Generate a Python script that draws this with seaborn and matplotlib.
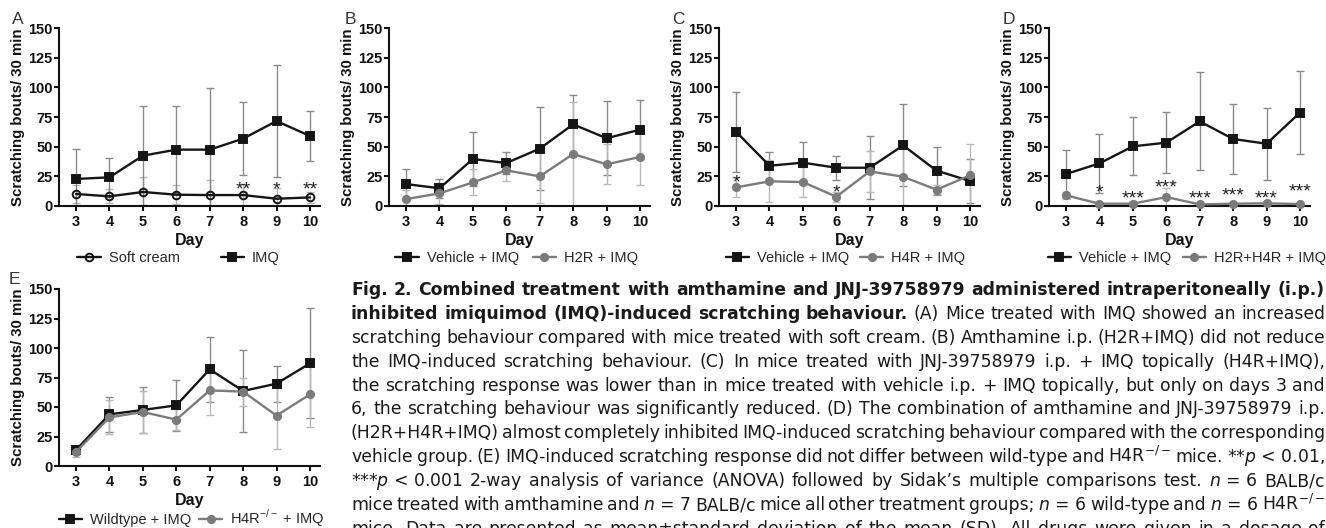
import matplotlib
matplotlib.use("Agg")
import matplotlib.pyplot as plt
import seaborn as sns
import numpy as np

# ---------------- data ----------------
days = [3, 4, 5, 6, 7, 8, 9, 10]
yticks = [0, 25, 50, 75, 100, 125, 150]

# Panel A
a_soft_mean = [9.9, 7.9, 11.6, 9.3, 9.0, 9.0, 5.9, 7.0]
a_soft_sd = [8.0, 6.0, 13.0, 8.2, 12.7, 9.0, 9.0, 5.0]
a_imq_mean = [22.6, 24.0, 42.3, 47.4, 47.4, 56.7, 71.6, 58.9]
a_imq_sd = [25.0, 16.6, 41.7, 36.6, 51.8, 31.0, 47.4, 21.4]
a_star_days = [8, 9, 10]
a_star_y = [18.9, 18.9, 18.9]
a_star_text = ["**", "*", "**"]

# Panel B
b_veh_mean = [18.3, 14.7, 39.5, 36.1, 48.2, 68.8, 57.0, 64.3]
b_veh_sd = [13.0, 8.0, 22.5, 9.6, 35.0, 25.1, 31.2, 25.1]
b_h2r_mean = [5.6, 10.4, 19.7, 29.9, 24.8, 43.7, 35.0, 41.2]
b_h2r_sd = [7.5, 9.0, 11.0, 9.3, 22.8, 44.0, 17.0, 24.0]

# Panel C
c_veh_mean = [62.6, 33.8, 36.4, 32.1, 32.1, 51.0, 29.6, 20.9]
c_veh_sd = [33.8, 11.9, 17.7, 10.2, 26.8, 34.7, 20.3, 18.6]
c_h4r_mean = [15.5, 20.6, 20.0, 7.6, 29.0, 24.5, 13.5, 25.7]
c_h4r_sd = [8.5, 17.8, 13.0, 4.2, 17.2, 24.0, 4.0, 26.3]
c_star_days = [3, 6]
c_star_y = [24.5, 16.1]
c_star_text = ["*", "*"]

# Panel D
d_veh_mean = [26.8, 35.8, 50.2, 53.3, 71.3, 56.4, 52.4, 78.7]
d_veh_sd = [20.3, 24.8, 24.5, 25.9, 41.5, 29.3, 30.5, 35.2]
d_comb_mean = [8.7, 1.7, 1.7, 7.3, 1.1, 1.7, 2.0, 1.4]
d_comb_sd = [3.0, 1.5, 2.0, 8.0, 0.8, 1.0, 1.0, 0.8]
d_star_days = [4, 5, 6, 7, 8, 9, 10]
d_star_y = [16.1, 11.3, 20.9, 11.3, 13.8, 11.3, 16.9]
d_star_text = ["*", "***", "***", "***", "***", "***", "***"]

# Panel E
e_wt_mean = [13.6, 43.8, 47.5, 51.4, 81.9, 63.6, 69.8, 87.0]
e_wt_sd = [3.0, 14.7, 19.7, 21.8, 27.4, 35.0, 15.2, 46.6]
e_ko_mean = [11.9, 41.2, 45.8, 39.3, 64.1, 63.0, 42.7, 60.7]
e_ko_sd = [4.0, 14.4, 18.0, 9.0, 21.0, 12.0, 28.6, 28.0]

# caption lines (segments: text, weight); '~' = non-stretching space
caption_lines = [
    [("Fig. 2. Combined treatment with amthamine and JNJ-39758979 administered intraperitoneally (i.p.)", "bold")],
    [("inhibited imiquimod (IMQ)-induced scratching behaviour.", "bold"),
     ("(A) Mice treated with IMQ showed an increased", "normal")],
    [("scratching behaviour compared with mice treated with soft cream. (B) Amthamine i.p. (H2R+IMQ) did not reduce", "normal")],
    [("the IMQ-induced scratching behaviour. (C) In mice treated with JNJ-39758979 i.p. + IMQ topically (H4R+IMQ),", "normal")],
    [("the scratching response was lower than in mice treated with vehicle i.p. + IMQ topically, but only on days 3 and", "normal")],
    [("6, the scratching behaviour was significantly reduced. (D) The combination of amthamine and JNJ-39758979 i.p.", "normal")],
    [("(H2R+H4R+IMQ) almost completely inhibited IMQ-induced scratching behaviour compared with the corresponding", "normal")],
    [("vehicle group. (E) IMQ-induced scratching response did not differ between wild-type and H4R$^{-/-}$ mice. **$p$~<~0.01,", "normal")],
    [("***$p$~<~0.001 2-way analysis of variance (ANOVA) followed by Sidak\u2019s multiple comparisons test. $n$~=~6 BALB/c", "normal")],
    [("mice treated with amthamine and $n$~=~7 BALB/c mice all other treatment groups; $n$~=~6 wild-type and $n$~=~6 H4R$^{-/-}$", "normal")],
    [("mice. Data are presented as mean\u00b1standard deviation of the mean (SD). All drugs were given in a dosage of", "normal")],
]

# ---------------- style ----------------
sns.set_theme(style="ticks")
plt.rcParams['font.family'] = ['Liberation Sans', 'DejaVu Sans']
plt.rcParams['axes.linewidth'] = 1.5
plt.rcParams['mathtext.fontset'] = 'dejavusans'

W, H = 1326, 528
fig = plt.figure(figsize=(W / 100, H / 100), dpi=100)

BLACK = '#151515'
GREY = '#7b7b7b'
ERR_BLACK = '#8a8a8a'
ERR_GREY = '#b8b8b8'


def add_axes_px(left, top, right, bottom):
    return fig.add_axes([left / W, 1 - bottom / H, (right - left) / W, (bottom - top) / H])


def draw_series(ax, mean, sd, label, color, ecolor, marker, ms, mfc):
    ax.errorbar(days, mean, yerr=sd, fmt='none', ecolor=ecolor, elinewidth=1.0,
                capsize=2.6, capthick=1.0, zorder=2)
    sns.lineplot(x=days, y=mean, ax=ax, color=color, marker=marker, markersize=ms,
                 markerfacecolor=mfc, markeredgecolor=color, markeredgewidth=1.4,
                 linewidth=1.7, clip_on=False, zorder=4, label=label, legend=False)
    return ax.get_lines()[-1]


def style_axes(ax):
    ax.set_xlim(2.49, 10.3)
    ax.set_ylim(0, 150)
    ax.set_xticks(days)
    ax.set_xticklabels([str(d) for d in days])
    ax.set_yticks(yticks)
    ax.set_yticklabels([str(v) for v in yticks])
    sns.despine(ax=ax)
    for s in ['left', 'bottom']:
        ax.spines[s].set_linewidth(1.5)
        ax.spines[s].set_color('#111111')
    ax.tick_params(axis='x', length=3.6, width=1.5, pad=3.0, labelsize=10.5, colors='#111111')
    ax.tick_params(axis='y', length=3.6, width=1.5, pad=1.0, labelsize=10.5, colors='#111111')
    for lab in ax.get_xticklabels() + ax.get_yticklabels():
        lab.set_fontweight('bold')
    ax.set_xlabel('Day', fontsize=11.5, fontweight='bold', color='#111111')
    ax.xaxis.set_label_coords(0.5, -35 / 177.4)
    ax.xaxis.label.set_va('center')
    ax.set_ylabel('Scratching bouts/ 30 min', fontsize=10.8, fontweight='bold', color='#111111')
    ax.yaxis.set_label_coords(-41 / 261, 0.5)
    ax.yaxis.label.set_va('center')
    ax.set_facecolor('none')


def add_stars(ax, sdays, sy, stext):
    fs = 14
    for d, y, t in zip(sdays, sy, stext):
        ax.annotate(t, (d, y), xytext=(0, -0.57 * fs), textcoords='offset points',
                    ha='center', va='baseline', fontsize=fs, color='#222222',
                    annotation_clip=False)


def add_legend(ax, handles, labels, cx, colsp):
    ax.legend(handles, labels, loc='center', bbox_to_anchor=(cx, -0.295), ncol=2,
              frameon=False, fontsize=10.5, handlelength=1.6, handletextpad=0.55,
              columnspacing=colsp, borderaxespad=0, borderpad=0)


# Panel A
axA = add_axes_px(59, 28.3, 320, 205.7)
h1 = draw_series(axA, a_soft_mean, a_soft_sd, 'Soft cream', BLACK, ERR_GREY, 'o', 5.5, 'none')
h2 = draw_series(axA, a_imq_mean, a_imq_sd, 'IMQ', BLACK, ERR_BLACK, 's', 5.8, BLACK)
style_axes(axA)
add_stars(axA, a_star_days, a_star_y, a_star_text)
add_legend(axA, [h1, h2], ['Soft cream', 'IMQ'], 0.458, 2.8)

# Panel B
axB = add_axes_px(389, 28.3, 650, 205.7)
h1 = draw_series(axB, b_veh_mean, b_veh_sd, 'Vehicle + IMQ', BLACK, ERR_BLACK, 's', 5.8, BLACK)
h2 = draw_series(axB, b_h2r_mean, b_h2r_sd, 'H2R + IMQ', GREY, ERR_GREY, 'o', 5.2, GREY)
style_axes(axB)
add_legend(axB, [h1, h2], ['Vehicle + IMQ', 'H2R + IMQ'], 0.489, 0.95)

# Panel C
axC = add_axes_px(719, 28.3, 980, 205.7)
h1 = draw_series(axC, c_veh_mean, c_veh_sd, 'Vehicle + IMQ', BLACK, ERR_BLACK, 's', 5.8, BLACK)
h2 = draw_series(axC, c_h4r_mean, c_h4r_sd, 'H4R + IMQ', GREY, ERR_GREY, 'o', 5.2, GREY)
style_axes(axC)
add_stars(axC, c_star_days, c_star_y, c_star_text)
add_legend(axC, [h1, h2], ['Vehicle + IMQ', 'H4R + IMQ'], 0.485, 0.75)

# Panel D
axD = add_axes_px(1049, 28.3, 1310, 205.7)
h1 = draw_series(axD, d_veh_mean, d_veh_sd, 'Vehicle + IMQ', BLACK, ERR_BLACK, 's', 5.8, BLACK)
h2 = draw_series(axD, d_comb_mean, d_comb_sd, 'H2R+H4R + IMQ', GREY, ERR_GREY, 'o', 5.2, GREY)
style_axes(axD)
add_stars(axD, d_star_days, d_star_y, d_star_text)
add_legend(axD, [h1, h2], ['Vehicle + IMQ', 'H2R+H4R + IMQ'], 0.528, 0.8)

# Panel E
axE = add_axes_px(59, 289, 320, 466)
h1 = draw_series(axE, e_wt_mean, e_wt_sd, 'Wildtype + IMQ', BLACK, ERR_BLACK, 's', 5.8, BLACK)
h2 = draw_series(axE, e_ko_mean, e_ko_sd, 'H4R-/- + IMQ', GREY, ERR_GREY, 'o', 5.2, GREY)
style_axes(axE)
add_legend(axE, [h1, h2], ['Wildtype + IMQ', r'H4R$^{\mathregular{-/-}}$ + IMQ'], 0.508, 0.55)

# panel letters
for letter, (px, py) in zip("ABCDE", [(17.5, 19), (350, 20), (678, 20), (1009, 20), (14, 279)]):
    fig.text(px / W, 1 - py / H, letter, fontsize=12.5, color='#333333', ha='center',
             va='center', fontweight='light')

# ---------------- caption (justified) ----------------
x0, x1 = 351, 1325
base0, step = 295, 23.9
renderer = fig.canvas.get_renderer()


def split_words(segs):
    out = []
    for s, w in segs:
        for tok in s.split(' '):
            out.append((tok.replace('~', ' '), w))
    return out


# choose the caption size so the tightest line still keeps a small word gap
ref_fs = 10.0
min_gap_em = 0.22
best = None
for segs in caption_lines:
    words = split_words(segs)
    tot = 0.0
    for tok, w in words:
        t = fig.text(0, 0, tok, fontsize=ref_fs, fontweight=w, family=['DejaVu Sans'])
        tot += t.get_window_extent(renderer).width
        t.remove()
    need = tot + (len(words) - 1) * min_gap_em * ref_fs * 100 / 72
    fs = ref_fs * (x1 - x0) / need
    best = fs if best is None else min(best, fs)
cap_fs = best

for i, segs in enumerate(caption_lines):
    words = split_words(segs)
    texts = []
    for tok, w in words:
        t = fig.text(0, 1 - (base0 + i * step) / H, tok, fontsize=cap_fs, fontweight=w,
                     family=['DejaVu Sans'], va='baseline', ha='left', color='#1a1a1a')
        texts.append(t)
    widths = [t.get_window_extent(renderer).width for t in texts]
    gap = (x1 - x0 - sum(widths)) / max(len(texts) - 1, 1)
    x = x0
    for t, wdt in zip(texts, widths):
        t.set_x(x / W)
        x += wdt + gap

fig.savefig('out.png', dpi=100)
